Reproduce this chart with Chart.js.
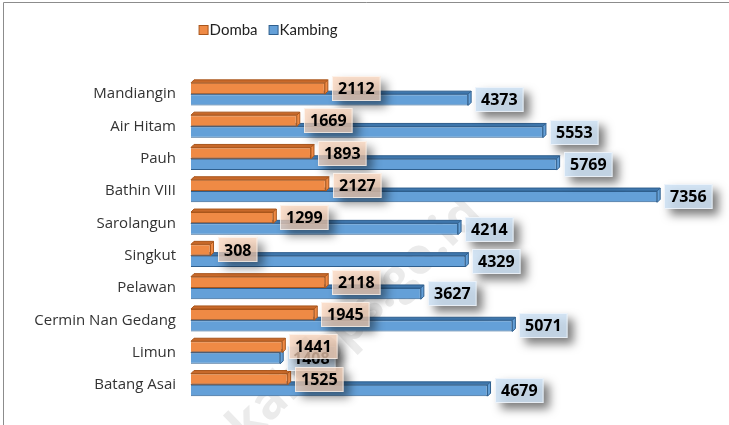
<!DOCTYPE html>
<html>

  <head>
    <meta charset="utf-8">
    <title>Domba dan Kambing</title>
    <script src="https://cdn.jsdelivr.net/npm/chart.js@4.4.0/dist/chart.umd.min.js"></script>
    <style>
      html,
      body {
        margin: 0;
        padding: 0;
        background: #fff;
      }
    </style>
  </head>

  <body>
    <canvas id="myChart" width="729" height="425"></canvas>

    <script>
      const labels = ['Mandiangin', 'Air Hitam', 'Pauh', 'Bathin VIII', 'Sarolangun', 'Singkut', 'Pelawan', 'Cermin Nan Gedang', 'Limun', 'Batang Asai'];
      const domba = [2112, 1669, 1893, 2127, 1299, 308, 2118, 1945, 1441, 1525];
      const kambing = [4373, 5553, 5769, 7356, 4214, 4329, 3627, 5071, 1408, 4679];

      const DEPTH = 3;

      // colours per series: fill, border, 3d face, label box
      const styles = [
        { fill: '#ef8a45', border: '#a9561c', face: '#c8692a', box: 'rgba(250,210,185,0.72)' },
        { fill: '#64a0d8', border: '#2f5f8e', face: '#3f77ad', box: 'rgba(205,224,243,0.85)' }
      ];

      const framePlugin = {
        id: 'frame',
        beforeDraw(chart) {
          const ctx = chart.ctx;
          ctx.save();
          ctx.strokeStyle = '#8c8c8c';
          ctx.lineWidth = 1;
          ctx.beginPath();
          ctx.moveTo(3.5, 440);
          ctx.lineTo(3.5, 2.5);
          ctx.lineTo(729, 2.5);
          ctx.stroke();
          ctx.restore();
        }
      };

      const watermarkPlugin = {
        id: 'watermark',
        beforeDatasetsDraw(chart) {
          const ctx = chart.ctx;
          ctx.save();
          ctx.translate(474, 206);
          ctx.rotate(-44 * Math.PI / 180);
          ctx.font = 'bold 50px "Open Sans"';
          ctx.fillStyle = '#ebebeb';
          ctx.textAlign = 'right';
          ctx.textBaseline = 'middle';
          ctx.fillText('sarolangunkab.bps.go.id', 0, 0);
          ctx.restore();
        }
      };

      // fake 3d top and end faces
      const bar3dPlugin = {
        id: 'bar3d',
        afterDatasetDraw(chart, args) {
          const ctx = chart.ctx;
          const st = styles[args.index];
          const d = DEPTH;
          ctx.save();
          args.meta.data.forEach(function (bar) {
            const p = bar.getProps(['x', 'y', 'base', 'height'], true);
            const x0 = p.base, x1 = p.x;
            const y0 = p.y - p.height / 2, y1 = p.y + p.height / 2;
            ctx.fillStyle = st.face;
            ctx.strokeStyle = st.border;
            ctx.lineWidth = 1;
            ctx.beginPath();
            ctx.moveTo(x0, y0);
            ctx.lineTo(x0 + d, y0 - d);
            ctx.lineTo(x1 + d, y0 - d);
            ctx.lineTo(x1, y0);
            ctx.closePath();
            ctx.fill();
            ctx.stroke();
            ctx.fillStyle = st.fill;
            ctx.beginPath();
            ctx.moveTo(x1, y0);
            ctx.lineTo(x1 + d, y0 - d);
            ctx.lineTo(x1 + d, y1 - d);
            ctx.lineTo(x1, y1);
            ctx.closePath();
            ctx.fill();
            ctx.stroke();
          });
          ctx.restore();
        }
      };

      const labelPlugin = {
        id: 'valueLabels',
        afterDatasetsDraw(chart) {
          const ctx = chart.ctx;
          ctx.save();
          ctx.font = 'bold 16px "Open Sans"';
          ctx.textAlign = 'center';
          ctx.textBaseline = 'middle';
          [1, 0].forEach(function (i) {
            const meta = chart.getDatasetMeta(i);
            const values = chart.data.datasets[i].data;
            meta.data.forEach(function (bar, j) {
              const p = bar.getProps(['x', 'y'], true);
              const txt = String(values[j]);
              const w = ctx.measureText(txt).width + 12;
              const h = 25;
              const bx = Math.round(p.x + DEPTH + 4);
              const by = Math.round(p.y - h / 2);
              ctx.save();
              ctx.shadowColor = 'rgba(0,0,0,0.6)';
              ctx.shadowBlur = 10;
              ctx.shadowOffsetX = 6;
              ctx.shadowOffsetY = 6;
              ctx.fillStyle = styles[i].box;
              ctx.fillRect(bx, by, w, h);
              ctx.restore();
              ctx.strokeStyle = 'rgba(255,255,255,0.6)';
              ctx.strokeRect(bx + 0.5, by + 0.5, w - 1, h - 1);
              ctx.fillStyle = '#000';
              ctx.fillText(txt, bx + w / 2, p.y + 1);
            });
          });
          ctx.restore();
        }
      };

      const legendPlugin = {
        id: 'simpleLegend',
        afterDraw(chart) {
          const ctx = chart.ctx;
          ctx.save();
          ctx.font = '15px "Liberation Sans Narrow", Lato';
          ctx.textBaseline = 'middle';
          const items = chart.data.datasets.map(function (ds, i) {
            return { text: ds.label, st: styles[i], w: 11 + ctx.measureText(ds.label).width };
          });
          const gap = 11;
          let total = items.reduce(function (a, it) { return a + it.w; }, 0) + gap * (items.length - 1);
          let x = 268 - total / 2;
          const y = 30;
          items.forEach(function (it) {
            ctx.fillStyle = it.st.fill;
            ctx.strokeStyle = it.st.border;
            ctx.fillRect(x + 0.5, y - 4.5, 9, 9);
            ctx.strokeRect(x + 0.5, y - 4.5, 9, 9);
            ctx.fillStyle = '#222';
            ctx.fillText(it.text, x + 11, y);
            x += it.w + gap;
          });
          ctx.restore();
        }
      };

      const data = {
        labels: labels,
        datasets: [{
          label: 'Domba',
          data: domba,
          backgroundColor: styles[0].fill,
          borderColor: styles[0].border,
          borderWidth: 1,
          categoryPercentage: 0.7,
          barPercentage: 1.0
        }, {
          label: 'Kambing',
          data: kambing,
          backgroundColor: styles[1].fill,
          borderColor: styles[1].border,
          borderWidth: 1,
          categoryPercentage: 0.7,
          barPercentage: 1.0
        }]
      };

      const config = {
        type: 'bar',
        data,
        plugins: [framePlugin, watermarkPlugin, bar3dPlugin, labelPlugin, legendPlugin],
        options: {
          indexAxis: 'y',
          responsive: false,
          animation: false,
          layout: {
            padding: { top: 78, bottom: 24, right: 31, left: 0 }
          },
          scales: {
            x: {
              display: false,
              min: 0,
              max: 8000
            },
            y: {
              afterFit: function (scale) {
                scale.width = 191;
              },
              grid: { display: false },
              border: { display: false },
              ticks: {
                color: '#333',
                padding: 7,
                font: { family: '"Open Sans"', size: 15 }
              }
            }
          },
          plugins: {
            legend: { display: false },
            tooltip: { enabled: false }
          }
        }
      };

      const myChart = new Chart(document.getElementById('myChart'), config);
    </script>

  </body>

</html>
